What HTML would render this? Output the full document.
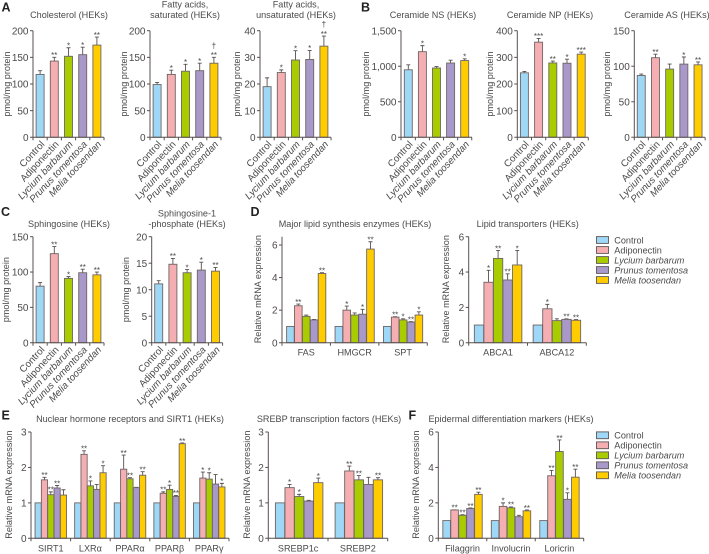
<!DOCTYPE html>
<html lang="en">
<head>
<meta charset="utf-8">
<title>Lipid and mRNA expression charts (HEKs)</title>
<style>
html,body{margin:0;padding:0;background:#fff;}
#fig{display:block;width:709px;height:554px;font-family:"Liberation Sans",Arial,sans-serif;fill:#4a4a4a;}
</style>
</head>
<body>
<svg id="fig" xmlns="http://www.w3.org/2000/svg" width="709" height="554" viewBox="0 0 709 554"></svg>
<script>
var seriesNames = ['Control','Adiponectin','Lycium barbarum','Prunus tomentosa','Melia toosendan'];
var seriesColors = ['#9ed8f6','#f5aeb1','#a9cc00','#a899ca','#ffcc00'];

var ticksCholesterol = ['0','50','100','150','200'];
var valuesCholesterol = [118,143,152,155,173];
var errorsCholesterol = [7,7,16,14,15];
var sigCholesterol = ['','**','*','*','**'];

var ticksSaturated = ['0','50','100','150','200'];
var valuesSaturated = [99,118,124,125,139];
var errorsSaturated = [4,8,13,14,11];
var sigSaturated = ['','*','*','*','**†'];

var ticksUnsaturated = ['0','10','20','30','40'];
var valuesUnsaturated = [19,24.3,29,29.2,34.2];
var errorsUnsaturated = [3.3,1,3.5,3.4,3.8];
var sigUnsaturated = ['','*','*','*','**†'];

var ticksCerNS = ['0','500','1,000','1,500'];
var valuesCerNS = [950,1205,975,1045,1080];
var errorsCerNS = [70,85,20,40,25];
var sigCerNS = ['','*','','','*'];

var ticksCerNP = ['0','100','200','300','400'];
var valuesCerNP = [242,357,279,278,312];
var errorsCerNP = [5,14,7,15,8];
var sigCerNP = ['','***','**','*','***'];

var ticksCerAS = ['0','50','100','150'];
var valuesCerAS = [87,112,96,103,102];
var errorsCerAS = [2,5,7,10,4];
var sigCerAS = ['','**','','*','**'];

var ticksSphingosine = ['0','50','100','150'];
var valuesSphingosine = [80,126,91,99,96];
var errorsSphingosine = [5,10,2.5,5,4];
var sigSphingosine = ['','**','*','**','**'];

var ticksS1P = ['0','5','10','15','20'];
var valuesS1P = [11.1,14.8,13.2,13.7,13.5];
var errorsS1P = [0.6,1.1,0.6,1.5,0.7];
var sigS1P = ['','**','*','*','**'];

var ticksRel6 = ['0','2','4','6'];
var ticksRel3 = ['0','1','2','3'];

var catsSynthesis = ['FAS','HMGCR','SPT'];
var valuesFAS = [1,2.27,1.62,1.4,4.25];
var errorsFAS = [0,0.1,0.08,0.03,0.05];
var sigFAS = ['','**','','','**'];
var valuesHMGCR = [1,2.0,1.7,1.75,5.75];
var errorsHMGCR = [0,0.25,0.13,0.3,0.45];
var sigHMGCR = ['','*','','*','**'];
var valuesSPT = [1,1.57,1.4,1.27,1.7];
var errorsSPT = [0,0.03,0.07,0.03,0.2];
var sigSPT = ['','**','*','**','*'];

var catsTransporters = ['ABCA1','ABCA12'];
var valuesABCA1 = [1,3.42,4.77,3.55,4.4];
var errorsABCA1 = [0,0.68,0.45,0.35,0.82];
var sigABCA1 = ['','*','**','**','*'];
var valuesABCA12 = [1,1.92,1.25,1.32,1.27];
var errorsABCA12 = [0,0.25,0.1,0.03,0.04];
var sigABCA12 = ['','*','','**','**'];

var catsNuclear = ['SIRT1','LXRα','PPARα','PPARβ','PPARγ'];
var valuesSIRT1 = [1,1.65,1.23,1.42,1.22];
var errorsSIRT1 = [0,0.07,0.08,0.07,0.15];
var sigSIRT1 = ['','**','**','**',''];
var valuesLXRa = [1,2.37,1.48,1.38,1.85];
var errorsLXRa = [0,0.1,0.14,0.14,0.2];
var sigLXRa = ['','**','*','','*'];
var valuesPPARa = [1,1.95,1.68,1.43,1.78];
var errorsPPARa = [0,0.4,0.03,0.01,0.1];
var sigPPARa = ['','**','**','','**'];
var valuesPPARb = [1,1.27,1.38,1.18,2.67];
var errorsPPARb = [0,0.04,0.12,0.03,0.02];
var sigPPARb = ['','**','*','**','**'];
var valuesPPARg = [1,1.7,1.67,1.53,1.45];
var errorsPPARg = [0,0.17,0.18,0.27,0.1];
var sigPPARg = ['','*','*','','*'];

var catsSREBP = ['SREBP1c','SREBP2'];
var valuesSREBP1c = [1,1.43,1.18,1.05,1.57];
var errorsSREBP1c = [0,0.09,0.06,0.02,0.13];
var sigSREBP1c = ['','*','*','','*'];
var valuesSREBP2 = [1,1.9,1.65,1.52,1.65];
var errorsSREBP2 = [0,0.14,0.12,0.2,0.06];
var sigSREBP2 = ['','**','**','','**'];

var catsEpidermal = ['Filaggrin','Involucrin','Loricrin'];
var valuesFilaggrin = [1,1.6,1.3,1.68,2.48];
var errorsFilaggrin = [0,0.01,0.03,0.03,0.12];
var sigFilaggrin = ['','**','**','**','**'];
var valuesInvolucrin = [1,1.8,1.72,1.22,1.55];
var errorsInvolucrin = [0,0.2,0.05,0.08,0.05];
var sigInvolucrin = ['','*','**','','**'];
var valuesLoricrin = [1,3.53,4.9,2.2,3.45];
var errorsLoricrin = [0,0.3,0.65,0.37,0.45];
var sigLoricrin = ['','**','**','*','**'];

var PMOL = 'pmol/mg protein';
var REL = 'Relative mRNA expression';

var panels = [
 {id:'cholesterol',title:['Cholesterol (HEKs)'],tx:69,ty:18,ytx:7,top:30.7,bottom:137.3,x0:33,x1:104,max:200,ticks:ticksCholesterol,groups:[[valuesCholesterol,errorsCholesterol,sigCholesterol]],barW:8,step:14.2},
 {id:'fatty-saturated',title:['Fatty acids,','saturated (HEKs)'],tx:185,ty:18,ytx:124,top:30.7,bottom:137.3,x0:150,x1:221,max:200,ticks:ticksSaturated,groups:[[valuesSaturated,errorsSaturated,sigSaturated]],barW:8,step:14.2},
 {id:'fatty-unsaturated',title:['Fatty acids,','unsaturated (HEKs)'],tx:296,ty:18,ytx:237,top:30.7,bottom:137.3,x0:260,x1:331,max:40,ticks:ticksUnsaturated,groups:[[valuesUnsaturated,errorsUnsaturated,sigUnsaturated]],barW:8,step:14.2},
 {id:'ceramide-ns',title:['Ceramide NS (HEKs)'],tx:433,ty:18,ytx:366,top:30.7,bottom:137.3,x0:401,x1:472,max:1500,ticks:ticksCerNS,groups:[[valuesCerNS,errorsCerNS,sigCerNS]],barW:8,step:14.1},
 {id:'ceramide-np',title:['Ceramide NP (HEKs)'],tx:550,ty:18,ytx:490,top:30.7,bottom:137.3,x0:517.3,x1:588.3,max:400,ticks:ticksCerNP,groups:[[valuesCerNP,errorsCerNP,sigCerNP]],barW:8,step:14.2},
 {id:'ceramide-as',title:['Ceramide AS (HEKs)'],tx:667,ty:18,ytx:607,top:30.7,bottom:137.3,x0:634.3,x1:705,max:150,ticks:ticksCerAS,groups:[[valuesCerAS,errorsCerAS,sigCerAS]],barW:8,step:14.2},
 {id:'sphingosine',title:['Sphingosine (HEKs)'],tx:69,ty:227,ytx:6,top:236.7,bottom:342.7,x0:33,x1:104,max:150,ticks:ticksSphingosine,groups:[[valuesSphingosine,errorsSphingosine,sigSphingosine]],barW:8,step:14.2},
 {id:'sphingosine-phosphate',title:['Sphingosine-1','-phosphate (HEKs)'],tx:187,ty:227,ytx:126,top:236.7,bottom:342.7,x0:151.7,x1:222.5,max:20,ticks:ticksS1P,groups:[[valuesS1P,errorsS1P,sigS1P]],barW:8,step:14.2},
 {id:'lipid-synthesis',title:['Major lipid synthesis enzymes (HEKs)'],tx:355,ty:227,ytx:258,top:236.7,bottom:342.7,x0:282,x1:427.3,max:6.51,tickStep:2,ticks:ticksRel6,cats:catsSynthesis,groups:[[valuesFAS,errorsFAS,sigFAS],[valuesHMGCR,errorsHMGCR,sigHMGCR],[valuesSPT,errorsSPT,sigSPT]],barW:7.6,step:7.9},
 {id:'lipid-transporters',title:['Lipid transporters (HEKs)'],tx:527.7,ty:227,ytx:446,top:236.7,bottom:342.7,x0:468.7,x1:586.3,max:6,ticks:ticksRel6,cats:catsTransporters,groups:[[valuesABCA1,errorsABCA1,sigABCA1],[valuesABCA12,errorsABCA12,sigABCA12]],barW:9.3,step:9.55},
 {id:'nuclear-receptors',title:['Nuclear hormone receptors and SIRT1 (HEKs)'],tx:130,ty:422,ytx:9,top:432,bottom:538.3,x0:31,x1:229,max:3,ticks:ticksRel3,cats:catsNuclear,groups:[[valuesSIRT1,errorsSIRT1,sigSIRT1],[valuesLXRa,errorsLXRa,sigLXRa],[valuesPPARa,errorsPPARa,sigPPARa],[valuesPPARb,errorsPPARb,sigPPARb],[valuesPPARg,errorsPPARg,sigPPARg]],barW:6.2,step:6.33},
 {id:'srebp',title:['SREBP transcription factors (HEKs)'],tx:329,ty:422,ytx:247,top:432,bottom:538.3,x0:268.3,x1:387.7,max:3,shift:1,ticks:ticksRel3,cats:catsSREBP,groups:[[valuesSREBP1c,errorsSREBP1c,sigSREBP1c],[valuesSREBP2,errorsSREBP2,sigSREBP2]],barW:9.3,step:9.55},
 {id:'epidermal',title:['Epidermal differentiation markers (HEKs)'],tx:511,ty:422,ytx:416,top:432,bottom:538.3,x0:438.3,x1:583.7,max:6,ticks:ticksRel6,cats:catsEpidermal,groups:[[valuesFilaggrin,errorsFilaggrin,sigFilaggrin],[valuesInvolucrin,errorsInvolucrin,sigInvolucrin],[valuesLoricrin,errorsLoricrin,sigLoricrin]],barW:7.6,step:7.95}
];

var svg = document.getElementById('fig');
var NS = 'http://www.w3.org/2000/svg';
var AXIS = '#58504f';

function make(parent, tag, props, txt) {
  var el = document.createElementNS(NS, tag);
  for (var k in props) { el.setAttribute(k, props[k]); }
  if (txt !== undefined) { el.textContent = txt; }
  parent.appendChild(el);
  return el;
}

function line(parent, a, b, c, d, w) {
  var el = make(parent, 'line', {x1:a, y1:b, x2:c, y2:d, stroke:AXIS, 'stroke-width':w});
  
  
  return el;
}

function drawPanel(p) {
  var g = make(svg, 'g', {});
  
  

  var yScale = function (v) { return p.bottom - (v / p.max) * (p.bottom - p.top); };
  var groupW = (p.x1 - p.x0) / p.groups.length;
  var xScale = function (gi, si) {
    return p.x0 + (gi + 0.5) * groupW + (si - 2) * p.step + (p.shift || 0);
  };

  // title
  p.title.forEach(function (t, i) {
    var el = make(g, 'text', {x:p.tx, y:p.ty - (p.title.length - 1 - i) * 10.4, 'text-anchor':'middle', 'font-size':9.1}, t);
    
    
  });

  // y title
  var yName = (p.ticks === ticksRel6 || p.ticks === ticksRel3) ? REL : PMOL;
  var midY = (p.top + p.bottom) / 2 + (yName === PMOL ? 0 : -0.5);
  var yTitle = make(g, 'text', {x:0, y:0, 'text-anchor':'middle', 'font-size':9.1,
    transform:'translate(' + (p.ytx + 3.2) + ',' + midY + ') rotate(-90)'}, yName);
  
  

  // bars
  p.groups.forEach(function (grp, gi) {
    var vals = grp[0], errs = grp[1], sigs = grp[2];
    vals.forEach(function (v, si) {
      var cx = xScale(gi, si);
      var yTop = yScale(v + errs[si]);
      if (errs[si] > 0) {
        var eb = make(g, 'path', {d:'M' + cx + ' ' + yScale(v) + 'V' + yTop + 'M' + (cx - 2) + ' ' + yTop + 'H' + (cx + 2), stroke:AXIS, 'stroke-width':0.9, fill:'none'});
        
        
      }
      var bar = make(g, 'rect', {x:cx - p.barW / 2, y:yScale(v), width:p.barW, height:p.bottom - yScale(v), fill:seriesColors[si], stroke:'#6f6564', 'stroke-width':0.9});
      
      

      var s = sigs[si];
      if (s) {
        var dagger = s.indexOf('†') >= 0;
        var stars = s.replace('†', '');
        var st = make(g, 'text', {x:cx, y:yTop + 0.8, 'text-anchor':'middle', 'font-size':8}, stars);
        
        
        if (dagger) {
          var dg = make(g, 'text', {x:cx, y:yTop - 9, 'text-anchor':'middle', 'font-size':8.5}, '†');
          
          
        }
      }
    });
  });

  // axes
  line(g, p.x0, p.top, p.x0, p.bottom + 3, 1);
  line(g, p.x0 - 3, p.bottom, p.x1, p.bottom, 1);

  // y ticks
  var stepVal = p.tickStep || p.max / (p.ticks.length - 1);
  p.ticks.forEach(function (label, i) {
    var y = yScale(i * stepVal);
    if (i > 0) { line(g, p.x0 - 3, y, p.x0, y, 1); }
    var t = make(g, 'text', {x:p.x0 - 4.5, y:y + 3.6, 'text-anchor':'end', 'font-size':10}, label);
    
    
  });

  // x ticks and labels
  if (p.cats) {
    for (var i = 1; i <= p.cats.length; i++) {
      var tx = p.x0 + i * groupW;
      line(g, tx, p.bottom, tx, p.bottom + 3, 1);
    }
    p.cats.forEach(function (c, i) {
      var t = make(g, 'text', {x:p.x0 + (i + 0.5) * groupW, y:p.bottom + 13, 'text-anchor':'middle', 'font-size':9.1}, c);
      
      
    });
  } else {
    seriesNames.forEach(function (c, si) {
      var cx = xScale(0, si);
      line(g, cx + p.step / 2, p.bottom, cx + p.step / 2, p.bottom + 3, 1);
      var props = {x:0, y:0, 'text-anchor':'end', 'font-size':9.8, transform:'translate(' + (cx + 5) + ',' + (p.bottom + 7.5) + ') rotate(-47)'};
      if (si >= 2) { props['font-style'] = 'italic'; }
      var t = make(g, 'text', props, c);
      
      
    });
  }
}

panels.forEach(drawPanel);

function drawLegend(topY, name) {
  var g = make(svg, 'g', {});
  
  
  seriesNames.forEach(function (s, i) {
    var y = topY + i * 10;
    var sw = make(g, 'rect', {x:596.5, y:y - 3.4, width:12, height:6.8, fill:seriesColors[i], stroke:'#5e5554', 'stroke-width':0.9});
    
    
    var props = {x:614.3, y:y + 3.4, 'font-size':9.1};
    if (i >= 2) { props['font-style'] = 'italic'; }
    var t = make(g, 'text', props, s);
    
    
  });
}
drawLegend(240, 'legend-top');
drawLegend(435.3, 'legend-bottom');

var letterNames = ['A','B','C','D','E','F'];
var letterX = [1.5,361,1,250.5,1.5,408.5];
var letterY = [11.5,11.5,216,216,419.5,419.5];
letterNames.forEach(function (l, i) {
  var t = make(svg, 'text', {x:letterX[i], y:letterY[i], 'font-size':12.5, 'font-weight':'bold', fill:'#222'}, l);
  
  
});
</script>
</body>
</html>
